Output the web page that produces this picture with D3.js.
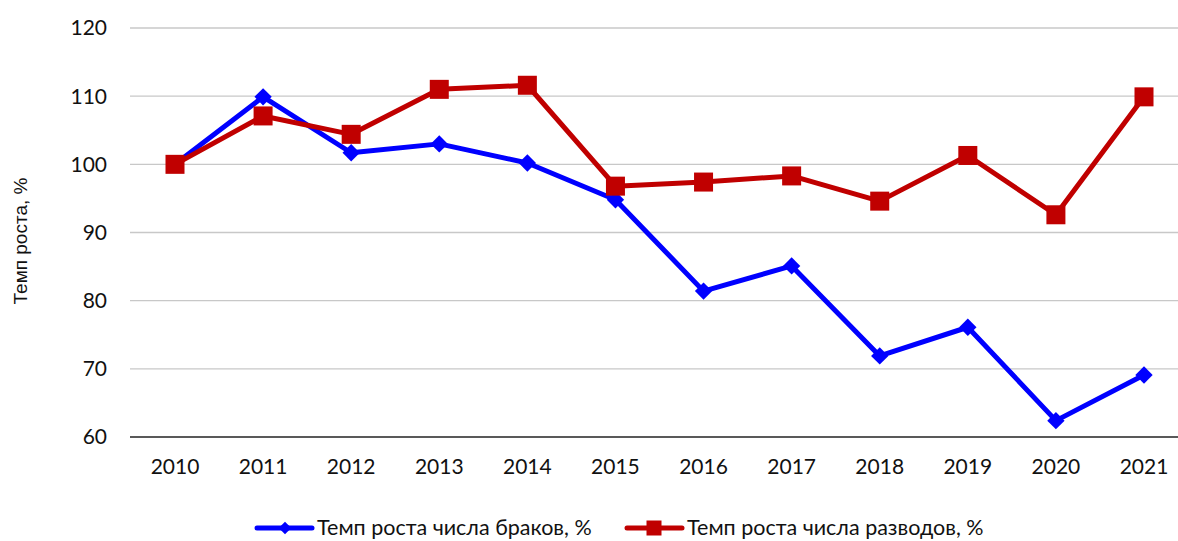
<!DOCTYPE html>
<html><head><meta charset="utf-8">
<script src="https://cdn.jsdelivr.net/npm/d3@7/dist/d3.min.js"></script>
<style>body{margin:0;background:#fff}svg{display:block}</style>
</head><body>
<svg id="c" width="1178" height="541"></svg>
<script>
const years = ["2010","2011","2012","2013","2014","2015","2016","2017","2018","2019","2020","2021"];
const marriages = [100, 109.9, 101.7, 103.0, 100.2, 94.8, 81.4, 85.1, 71.9, 76.1, 62.4, 69.1];
const divorces = [100, 107.1, 104.4, 111.0, 111.6, 96.8, 97.4, 98.3, 94.6, 101.3, 92.6, 109.9];
const yTicks = [60, 70, 80, 90, 100, 110, 120];
const seriesNames = ["Темп роста числа браков, %", "Темп роста числа разводов, %"];

const svg = d3.select("#c");
const font = "Lato, 'Open Sans', sans-serif";
const x = d3.scalePoint().domain(years).range([175, 1144]);
const y = d3.scaleLinear().domain([60, 120]).range([437, 28]);

svg.append("g").selectAll("line").data(yTicks.filter(d => d > 60)).join("line")
  .attr("x1", 130).attr("x2", 1178).attr("y1", d => y(d)).attr("y2", d => y(d))
  .attr("stroke", "#c8c8c8").attr("stroke-width", 1.3);
svg.append("line").attr("x1", 130).attr("x2", 1178).attr("y1", y(60)).attr("y2", y(60))
  .attr("stroke", "#222").attr("stroke-width", 1.3);

svg.append("g").selectAll("text").data(yTicks).join("text")
  .attr("x", 107).attr("y", d => y(d)).attr("dy", "0.35em").attr("text-anchor", "end")
  .attr("font-family", font).attr("font-size", 21).attr("fill", "#111").text(d => d);
svg.append("g").selectAll("text").data(years).join("text")
  .attr("x", d => x(d)).attr("y", 467).attr("dy", "0.35em").attr("text-anchor", "middle")
  .attr("font-family", font).attr("font-size", 21).attr("fill", "#111").text(d => d);

svg.append("text").attr("transform", "translate(27,241) rotate(-90)").attr("text-anchor", "middle")
  .attr("font-family", "'Liberation Sans', Arial, sans-serif").attr("font-size", 19).attr("fill", "#111")
  .text("Темп роста, %");

const line = d3.line().x((d, i) => x(years[i])).y(d => y(d));
const blue = "#0000ff", red = "#c00000";

svg.append("path").datum(marriages).attr("d", line).attr("fill", "none")
  .attr("stroke", blue).attr("stroke-width", 5).attr("stroke-linejoin", "round");
svg.append("g").selectAll("path").data(marriages).join("path")
  .attr("d", d3.symbol().type(d3.symbolSquare).size(150))
  .attr("transform", (d, i) => `translate(${x(years[i])},${y(d)}) rotate(45)`)
  .attr("fill", blue);

svg.append("path").datum(divorces).attr("d", line).attr("fill", "none")
  .attr("stroke", red).attr("stroke-width", 5).attr("stroke-linejoin", "round");
svg.append("g").selectAll("rect").data(divorces).join("rect")
  .attr("x", (d, i) => x(years[i]) - 9.5).attr("y", d => y(d) - 9.5).attr("width", 19).attr("height", 19)
  .attr("fill", red);

const ly = 528;
const lg = svg.append("g");
const items = [{name: seriesNames[0], c: blue, x0: 257, t: "d"}, {name: seriesNames[1], c: red, x0: 627, t: "s"}];
items.forEach(it => {
  lg.append("line").attr("x1", it.x0).attr("x2", it.x0 + 55).attr("y1", ly).attr("y2", ly)
    .attr("stroke", it.c).attr("stroke-width", 5).attr("stroke-linecap", "round");
  if (it.t === "d") {
    lg.append("path").attr("d", d3.symbol().type(d3.symbolSquare).size(80))
      .attr("transform", `translate(${it.x0 + 28},${ly}) rotate(45)`).attr("fill", it.c);
  } else {
    lg.append("rect").attr("x", it.x0 + 27 - 7.5).attr("y", ly - 7.5).attr("width", 15).attr("height", 15).attr("fill", it.c);
  }
  lg.append("text").attr("x", it.x0 + 60).attr("y", ly).attr("dy", "0.33em")
    .attr("font-family", font).attr("font-size", 21.5).attr("fill", "#111").text(it.name);
});
</script>
</body></html>
